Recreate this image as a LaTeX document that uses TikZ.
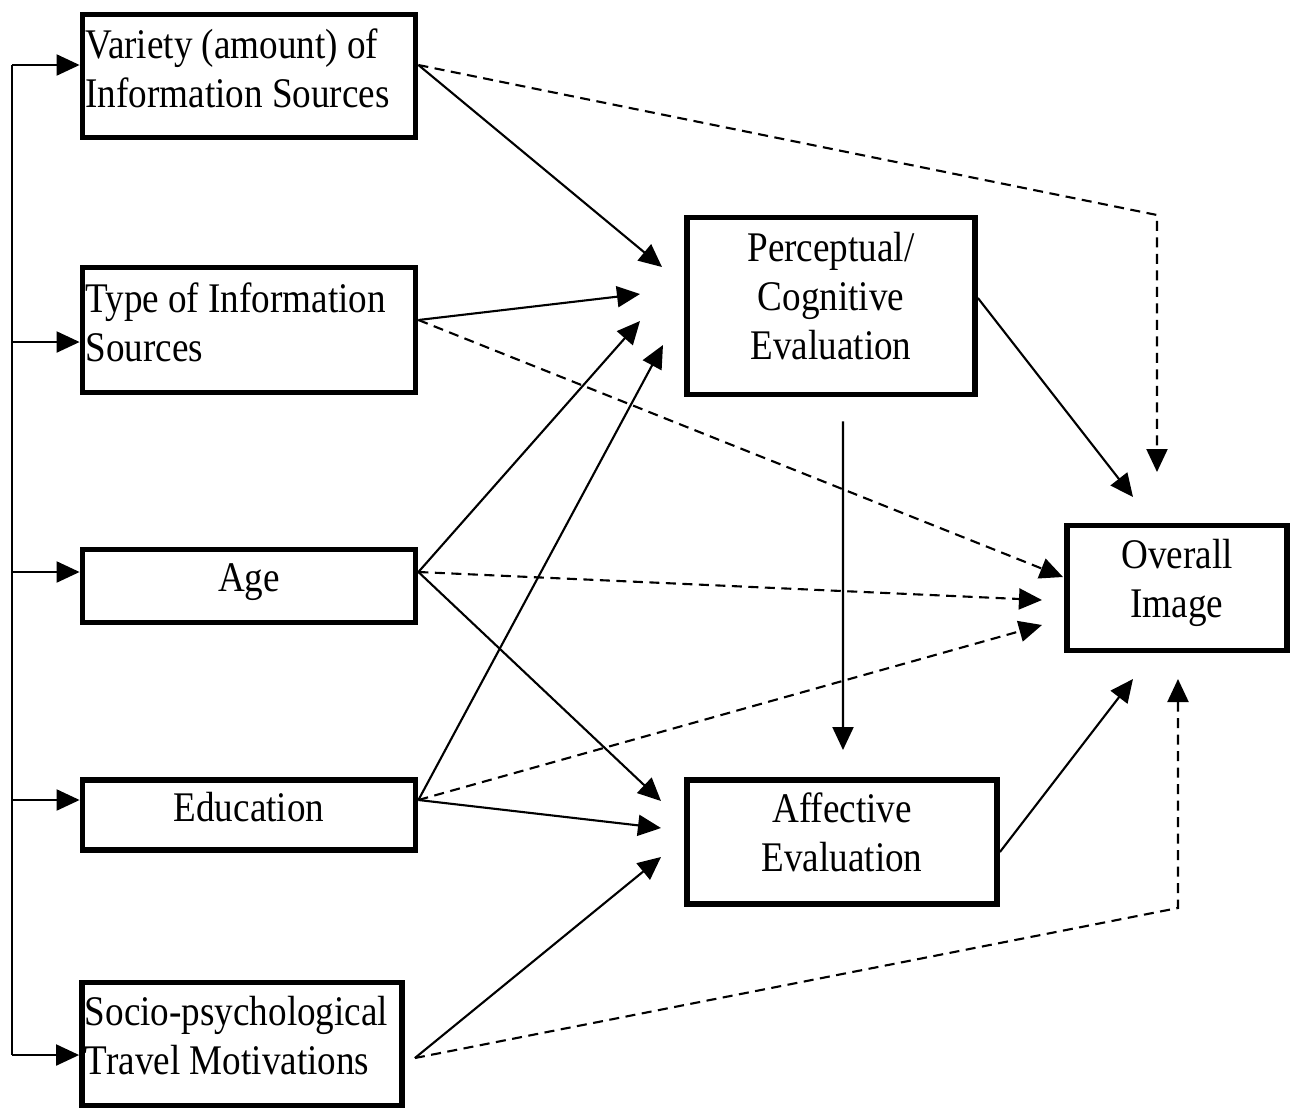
\documentclass[tikz,border=0pt]{standalone}
\usepackage{fontspec}
\setmainfont{Liberation Serif}[FakeStretch=0.88]
\usetikzlibrary{shapes.geometric, arrows}
\usetikzlibrary{positioning}
\usetikzlibrary{arrows.meta}
\tikzstyle{box} = [rectangle, draw=black, line width=1.6pt, inner xsep=0.03cm, inner ysep=0pt,
text depth=0.16cm, font=\fontsize{12}{14}\selectfont]
\tikzstyle{lbox} = [box, align=flush left, text depth=0.65cm]
\tikzstyle{cbox} = [box, align=center]
\tikzstyle{arrow} = [line width=0.6pt,->,>={Triangle[length=0.23cm,width=0.21cm]}]
\tikzstyle{darrow} = [arrow, dash pattern=on 0.1cm off 0.065cm]

\begin{document}
\begin{tikzpicture}[x=0.01cm, y=-0.01cm]
  \useasboundingbox (0,0) rectangle (1296,1111);

  \node (var) [lbox, minimum width=3.33cm, minimum height=1.23cm, text width=3.27cm] at (249,76)
  {Variety (amount) of\\Information Sources};
  \node (type) [lbox, minimum width=3.33cm, minimum height=1.25cm, text width=3.27cm] at (249,330)
  {Type of Information\\Sources};
  \node (age) [box, minimum width=3.33cm, minimum height=0.73cm, text depth=0.17cm] at (249,586) {Age};
  \node (edu) [box, minimum width=3.33cm, minimum height=0.70cm] at (249,815) {Education};
  \node (socio) [lbox, minimum width=3.20cm, minimum height=1.23cm, text width=3.14cm,
    text depth=0.67cm] at (242,1044)
  {Socio-psychological\\Travel Motivations};
  \node (perc) [cbox, minimum width=2.88cm, minimum height=1.77cm, text depth=0.2cm] at (831,306)
  {Perceptual/\\Cognitive\\Evaluation};
  \node (aff) [cbox, minimum width=3.10cm, minimum height=1.24cm, text depth=0.2cm] at (842,842)
  {Affective\\Evaluation};
  \node (over) [cbox, minimum width=2.20cm, minimum height=1.25cm, text depth=0.19cm] at (1177,588)
  {Overall\\Image};

  \coordinate (vin) at ([yshift=0.11cm]var.west);
  \coordinate (tin) at ([yshift=-0.12cm]type.west);
  \coordinate (ain) at ([yshift=0.14cm]age.west);
  \coordinate (ein) at ([yshift=0.15cm]edu.west);
  \coordinate (sin) at ([yshift=-0.11cm]socio.west);
  \coordinate (bus) at (12,65);

  \coordinate (vout) at ([yshift=0.11cm]var.east);
  \coordinate (tout) at ([yshift=0.10cm]type.east);
  \coordinate (aout) at ([yshift=0.14cm]age.east);
  \coordinate (eout) at ([yshift=0.15cm]edu.east);
  \coordinate (sout) at ([xshift=0.1cm,yshift=-0.14cm]socio.east);

  \coordinate (p1) at (662,267);
  \coordinate (p2) at (640,294);
  \coordinate (p3) at (640,321);
  \coordinate (p4) at (663,345);
  \coordinate (a1) at (661,801);
  \coordinate (a2) at (661,828);
  \coordinate (a3) at (661,857);
  \coordinate (o1) at (1157,472);
  \coordinate (k1) at (1157,215);
  \coordinate (o2) at (1063,577);
  \coordinate (o3) at (1042,600);
  \coordinate (o4) at (1042,625);
  \coordinate (o5) at (1133,497);
  \coordinate (o6) at (1133,679);
  \coordinate (o7) at (1178,679);
  \coordinate (k2) at (1178,908);
  \coordinate (c0) at ([xshift=0.12cm,yshift=-0.24cm]perc.south);
  \coordinate (a0) at (843,750);

  \draw[line width=0.6pt] (bus |- vin) -- (bus |- sin);
  \draw[arrow] (bus |- vin) -- (vin);
  \draw[arrow] (bus |- tin) -- (tin);
  \draw[arrow] (bus |- ain) -- (ain);
  \draw[arrow] (bus |- ein) -- (ein);
  \draw[arrow] (bus |- sin) -- (sin);

  \draw[arrow] (vout) -- (p1);
  \draw[arrow] (tout) -- (p2);
  \draw[arrow] (aout) -- (p3);
  \draw[arrow] (eout) -- (p4);
  \draw[arrow] (aout) -- (a1);
  \draw[arrow] (eout) -- (a2);
  \draw[arrow] (sout) -- (a3);
  \draw[arrow] ([yshift=0.08cm]perc.east) -- (o5);
  \draw[arrow] ([yshift=-0.10cm]aff.east) -- (o6);
  \draw[arrow] (c0) -- (a0);

  \draw[darrow] (vout) -- (k1) -- (o1);
  \draw[darrow] (tout) -- (o2);
  \draw[darrow] (aout) -- (o3);
  \draw[darrow] (eout) -- (o4);
  \draw[darrow] (sout) -- (k2) -- (o7);
\end{tikzpicture}
\end{document}
